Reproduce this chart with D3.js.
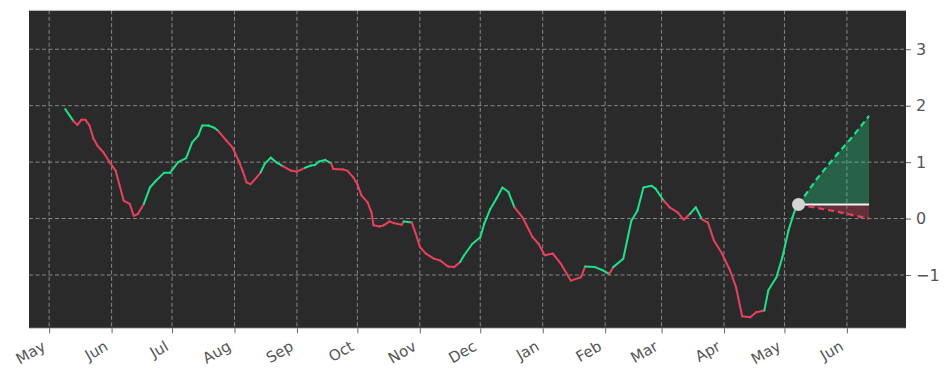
<!DOCTYPE html>
<html>
<head>
<meta charset="utf-8">
<script src="https://cdn.jsdelivr.net/npm/d3@7"></script>
<style>
  html, body { margin: 0; padding: 0; background: #ffffff; }
  svg { display: block; }
  text { font-family: "DejaVu Sans", sans-serif; fill: #555555; }
</style>
</head>
<body>
<svg id="chart" width="950" height="381"></svg>
<script>
// ---------------- DATA ----------------
const dates = [
  "2024-05-09","2024-05-13","2024-05-15","2024-05-17","2024-05-19","2024-05-21","2024-05-23","2024-05-25","2024-05-28","2024-05-31",
  "2024-06-03","2024-06-05","2024-06-07","2024-06-10","2024-06-12","2024-06-14","2024-06-17","2024-06-20","2024-06-23","2024-06-27",
  "2024-06-30","2024-07-04","2024-07-08","2024-07-11","2024-07-14","2024-07-16","2024-07-19","2024-07-22","2024-07-24","2024-07-28",
  "2024-07-31","2024-08-03","2024-08-05","2024-08-07","2024-08-09","2024-08-12","2024-08-14","2024-08-16","2024-08-19","2024-08-22",
  "2024-08-25","2024-08-29","2024-09-01","2024-09-05","2024-09-08","2024-09-10","2024-09-12","2024-09-15","2024-09-18","2024-09-19",
  "2024-09-24","2024-09-26","2024-09-29","2024-10-01","2024-10-03","2024-10-06","2024-10-08","2024-10-09","2024-10-12","2024-10-14",
  "2024-10-17","2024-10-19","2024-10-23","2024-10-24","2024-10-28","2024-10-30","2024-11-01","2024-11-04","2024-11-08","2024-11-11",
  "2024-11-15","2024-11-18","2024-11-21","2024-11-23","2024-11-27","2024-12-01","2024-12-03","2024-12-06","2024-12-09","2024-12-12",
  "2024-12-15","2024-12-18","2024-12-22","2024-12-27","2024-12-30","2025-01-02","2025-01-06","2025-01-10","2025-01-15","2025-01-20",
  "2025-01-22","2025-01-27","2025-01-31","2025-02-03","2025-02-05","2025-02-10","2025-02-14","2025-02-17","2025-02-20","2025-02-24",
  "2025-02-26","2025-03-02","2025-03-05","2025-03-09","2025-03-12","2025-03-15","2025-03-18","2025-03-21","2025-03-24","2025-03-27",
  "2025-03-31","2025-04-04","2025-04-07","2025-04-10","2025-04-14","2025-04-17","2025-04-21","2025-04-23","2025-04-27","2025-04-30",
  "2025-05-03","2025-05-05","2025-05-07","2025-05-08"
];
const values = [
  1.94, 1.73, 1.66, 1.75, 1.75, 1.65, 1.42, 1.29, 1.17, 1.00,
  0.85, 0.58, 0.32, 0.26, 0.05, 0.08, 0.26, 0.55, 0.67, 0.81,
  0.81, 1.00, 1.07, 1.35, 1.47, 1.65, 1.65, 1.61, 1.55, 1.38,
  1.26, 1.03, 0.85, 0.64, 0.61, 0.73, 0.82, 0.97, 1.08, 0.99,
  0.93, 0.85, 0.83, 0.90, 0.94, 0.95, 1.01, 1.04, 0.98, 0.88,
  0.87, 0.85, 0.73, 0.61, 0.41, 0.29, 0.11, -0.12, -0.14, -0.12,
  -0.05, -0.08, -0.11, -0.05, -0.07, -0.27, -0.50, -0.62, -0.71, -0.74,
  -0.85, -0.86, -0.77, -0.65, -0.45, -0.33, -0.09, 0.17, 0.35, 0.55,
  0.47, 0.20, 0.02, -0.33, -0.45, -0.65, -0.62, -0.80, -1.10, -1.04,
  -0.85, -0.86, -0.92, -0.98, -0.86, -0.71, -0.04, 0.14, 0.55, 0.58,
  0.53, 0.32, 0.20, 0.11, -0.02, 0.08, 0.20, -0.01, -0.07, -0.39,
  -0.62, -0.92, -1.22, -1.73, -1.75, -1.66, -1.63, -1.27, -1.04, -0.68,
  -0.21, 0.02, 0.23, 0.25
];
// trend regime changes (signal in force from that date on)
const trendDates = [
  "2024-05-09","2024-05-13","2024-06-17","2024-07-24","2024-08-14","2024-08-25","2024-09-05","2024-09-18",
  "2024-10-24","2024-10-28","2024-11-21","2024-12-18","2025-01-22","2025-02-03","2025-02-05","2025-03-02",
  "2025-03-15","2025-03-21","2025-04-21"
];
const trendSignals = [
  "up","down","up","down","up","down","up","down",
  "up","down","up","down","up","down","up","down",
  "up","down","up"
];
// forecast
const forecastDates = ["2025-05-08","2025-05-17","2025-05-26","2025-06-04","2025-06-12"];
const forecastUpper = [0.25, 0.70, 1.09, 1.46, 1.82];
const forecastLower = [0.25, 0.19, 0.13, 0.06, 0.00];
const forecastBase = 0.25;
const yTicks = [-1, 0, 1, 2, 3];
const xDomain = ["2024-04-21", "2025-06-30"];
const yDomain = [-1.944, 3.69];

// ---------------- CHART ----------------
(function () {
const parse = d3.timeParse("%Y-%m-%d");
const svg = d3.select("#chart");
const pL = 29, pR = 906, pT = 10.3, pB = 328.3;

const x = d3.scaleTime()
  .domain([parse(xDomain[0]), d3.timeHour.offset(parse(xDomain[1]), 8)])
  .range([pL, pR]);
const y = d3.scaleLinear().domain(yDomain).range([pB, pT]);

const GREEN = "#1fe08e", RED = "#e8405f";
const color = d3.scaleOrdinal().domain(["up", "down"]).range([GREEN, RED]);

// background
svg.append("rect").attr("x", pL).attr("y", pT)
  .attr("width", pR - pL).attr("height", pB - pT)
  .attr("fill", "#2a2a2a");

const monthTicks = x.ticks(d3.timeMonth.every(1));

// grid
const grid = svg.append("g").attr("stroke", "#bdbdbd").attr("stroke-opacity", 0.8)
  .attr("stroke-width", 0.8).attr("stroke-dasharray", "4,2.5");
grid.selectAll(".gx").data(monthTicks).join("line")
  .attr("x1", d => x(d)).attr("x2", d => x(d)).attr("y1", pT).attr("y2", pB);
grid.selectAll(".gy").data(yTicks).join("line")
  .attr("x1", pL).attr("x2", pR).attr("y1", d => y(d)).attr("y2", d => y(d));

// border (light)
svg.append("line").attr("x1", pL).attr("x2", pR).attr("y1", pT).attr("y2", pT)
  .attr("stroke", "#d0d0d0").attr("stroke-width", 1);
svg.append("line").attr("x1", pL).attr("x2", pR).attr("y1", pB).attr("y2", pB)
  .attr("stroke", "#d0d0d0").attr("stroke-width", 1);

// axes
const xAxis = d3.axisBottom(x).tickValues(monthTicks).tickFormat(d3.timeFormat("%b"))
  .tickSizeOuter(0).tickSizeInner(5).tickPadding(4);
const gx = svg.append("g").attr("transform", `translate(0,${pB})`).call(xAxis);
gx.select(".domain").remove();
gx.selectAll(".tick line").attr("stroke", "#555555").attr("stroke-width", 0.9);
gx.selectAll(".tick text")
  .attr("font-size", 15).attr("fill", "#555555")
  .attr("text-anchor", "end")
  .attr("x", 0).attr("y", 0).attr("dy", 0)
  .attr("transform", "translate(-3,21) rotate(-30)");

const yAxis = d3.axisRight(y).tickValues(yTicks).tickFormat(d3.format("d"))
  .tickSizeOuter(0).tickSizeInner(5).tickPadding(5);
const gy = svg.append("g").attr("transform", `translate(${pR},0)`).call(yAxis);
gy.select(".domain").remove();
gy.selectAll(".tick line").attr("stroke", "#555555").attr("stroke-width", 0.9);
gy.selectAll(".tick text").attr("font-size", 16).attr("fill", "#555555");

// main series
const pts = dates.map((d, i) => ({ date: parse(d), value: values[i] }));
const trends = trendDates.map((d, i) => ({ date: parse(d), signal: trendSignals[i] }));
function signalAt(date) {
  let s = trends[0].signal;
  for (const t of trends) { if (t.date <= date) s = t.signal; }
  return s;
}
const segs = d3.pairs(pts).map(([a, b]) => ({ a, b, signal: signalAt(a.date) }));
svg.append("g").selectAll("line").data(segs).join("line")
  .attr("x1", d => x(d.a.date)).attr("y1", d => y(d.a.value))
  .attr("x2", d => x(d.b.date)).attr("y2", d => y(d.b.value))
  .attr("stroke", d => color(d.signal))
  .attr("stroke-width", 2).attr("stroke-linecap", "round");

// forecast
const fc = forecastDates.map((d, i) => ({ date: parse(d), up: forecastUpper[i], lo: forecastLower[i] }));
svg.append("path").datum(fc)
  .attr("d", d3.area().x(d => x(d.date)).y0(() => y(forecastBase)).y1(d => y(d.up)))
  .attr("fill", GREEN).attr("fill-opacity", 0.3);
svg.append("path").datum(fc)
  .attr("d", d3.area().x(d => x(d.date)).y0(() => y(forecastBase)).y1(d => y(d.lo)))
  .attr("fill", RED).attr("fill-opacity", 0.3);
svg.append("line")
  .attr("x1", x(fc[0].date)).attr("x2", x(fc[fc.length - 1].date))
  .attr("y1", y(forecastBase)).attr("y2", y(forecastBase))
  .attr("stroke", "#f2f2f2").attr("stroke-width", 2);
svg.append("path").datum(fc)
  .attr("d", d3.line().x(d => x(d.date)).y(d => y(d.up)))
  .attr("fill", "none").attr("stroke", GREEN).attr("stroke-width", 2.2)
  .attr("stroke-dasharray", "6,4");
svg.append("path").datum(fc)
  .attr("d", d3.line().x(d => x(d.date)).y(d => y(d.lo)))
  .attr("fill", "none").attr("stroke", RED).attr("stroke-width", 2.2)
  .attr("stroke-dasharray", "6,4");
svg.append("circle")
  .attr("cx", x(fc[0].date)).attr("cy", y(forecastBase)).attr("r", 6.5)
  .attr("fill", "#d4d4d4");
})();
</script>
</body>
</html>
